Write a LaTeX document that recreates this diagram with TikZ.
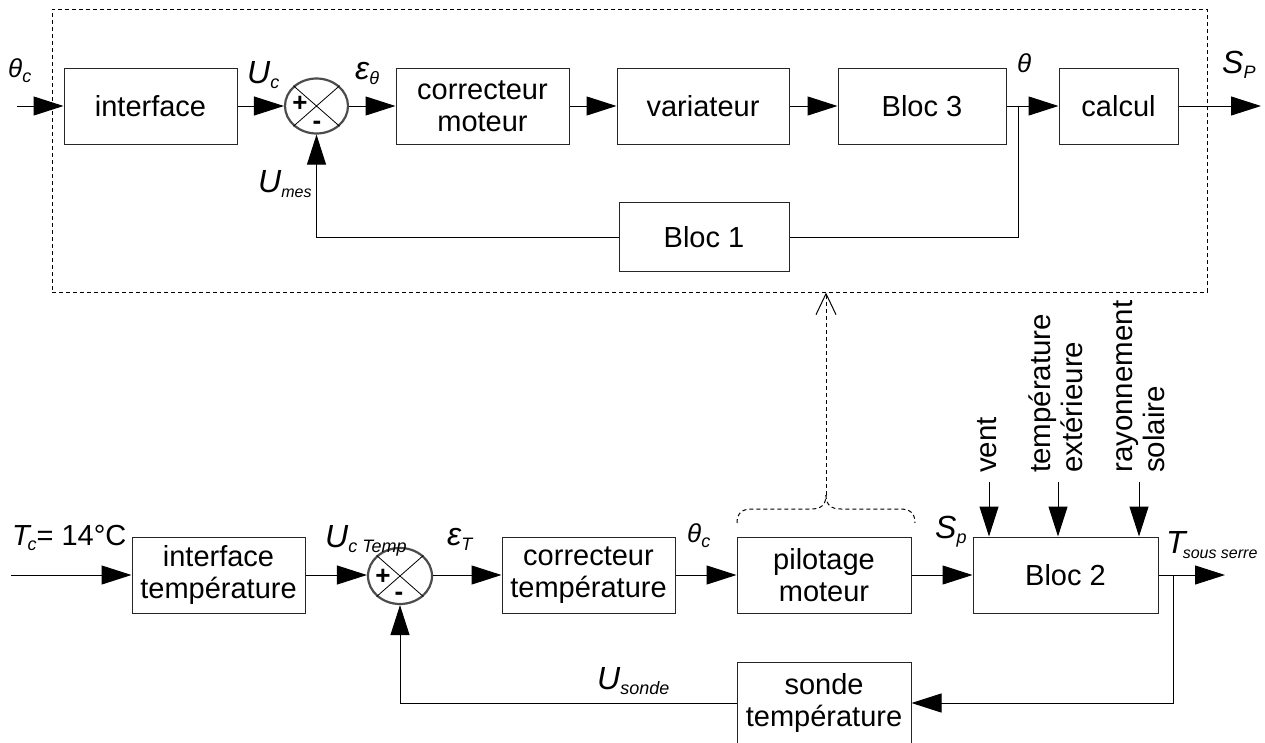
\documentclass[tikz,border=0pt]{standalone}
\usepackage{fontspec}
\setmainfont{Liberation Sans}
\usetikzlibrary{arrows.meta,shapes.geometric}
\newcommand{\sbx}[1]{\raisebox{-5pt}{\fontsize{18}{18}\selectfont #1}}
\newcommand{\sbs}[1]{\raisebox{-5pt}{\fontsize{16}{16}\selectfont #1}}
\newcommand{\thsym}{{\fontsize{26}{26}\selectfont θ}}
\tikzset{
  blk/.style={draw=black!85, line width=1pt, align=center, inner sep=0pt,
    font=\fontsize{29}{32}\selectfont},
  sumj/.style={ellipse, draw=black!70, line width=2.2pt, minimum width=63pt,
    minimum height=55pt, inner sep=0pt},
  arr/.style={line width=1pt, -{Triangle[length=30pt,width=19pt]}},
  ln/.style={line width=1pt},
  lbl/.style={font=\fontsize{32}{34}\selectfont\itshape, inner sep=0pt, anchor=base west},
  dsh/.style={line width=1pt, dash pattern=on 4pt off 3pt},
  rlbl/.style={font=\fontsize{29.5}{32}\selectfont, rotate=90, anchor=west, align=left, inner sep=0pt},
  sgn/.style={font=\fontsize{26}{26}\selectfont\bfseries, inner sep=0pt}
}
\begin{document}
\begin{tikzpicture}[x=1pt,y=-1pt]
\useasboundingbox (0,0) rectangle (1265,742);
% dashed group
\node[dsh, draw, minimum width=1155pt, minimum height=283pt, inner sep=0pt] (grp) at (629.5,150.5) {};
% top row
\node[blk, minimum width=173pt, minimum height=76pt] (iface) at (150.5,106) {interface};
\node[sumj] (s1) at (316.5,106) {};
\draw[line width=0.8pt] (s1.north west) -- (s1.south east) (s1.north east) -- (s1.south west);
\node[sgn] (p1) at (300,104) {+};
\node[sgn] (m1) at (317,125) {-};
\node[blk, minimum width=173pt, minimum height=76pt] (cm) at (482.5,106) {correcteur\\moteur};
\node[blk, minimum width=172pt, minimum height=76pt] (var) at (703,106) {variateur};
\node[blk, minimum width=168pt, minimum height=76pt] (b3) at (922,106) {Bloc 3};
\node[blk, minimum width=119pt, minimum height=76pt] (calc) at (1118.5,106) {calcul};
\node[blk, minimum width=170pt, minimum height=69pt] (b1) at (704,237) {Bloc 1};
\coordinate (in1) at (17,106);
\coordinate (br1) at (1018,106);
\coordinate (out1) at (1261,106);
\draw[arr] (in1) -- (iface.west);
\draw[arr] (iface.east) -- (s1.west);
\draw[arr] (s1.east) -- (cm.west);
\draw[arr] (cm.east) -- (var.west);
\draw[arr] (var.east) -- (b3.west);
\draw[ln] (b3.east) -- (br1);
\draw[arr] (br1) -- (calc.west);
\draw[ln] (br1) |- (b1.east);
\draw[arr] (b1.west) -| (s1.south);
\draw[arr] (calc.east) -- (out1);
% top labels
\node[lbl] (lthc) at (8,77) {\thsym\sbx{c}};
\node[lbl] (luc) at (247,83) {U\sbx{c}};
\node[lbl] (leps) at (355,79) {ε\sbx{θ}};
\node[lbl] (lumes) at (258,192) {U\sbs{mes}};
\node[lbl] (lth) at (1017,72) {\thsym};
\node[lbl] (lsp) at (1222,73) {S\sbx{P}};
% bottom row
\node[blk, minimum width=173pt, minimum height=76pt] (ifT) at (218.5,575) {interface\\température};
\node[sumj, minimum width=64pt, minimum height=56pt] (s2) at (400,576) {};
\draw[line width=0.8pt] (s2.north west) -- (s2.south east) (s2.north east) -- (s2.south west);
\node[sgn] (p2) at (383,577) {+};
\node[sgn] (m2) at (399,596) {-};
\node[blk, minimum width=173pt, minimum height=76pt] (cT) at (588.5,575) {correcteur\\température};
\node[blk, minimum width=174pt, minimum height=76pt] (pil) at (824,575) {pilotage\\moteur};
\node[blk, minimum width=185pt, minimum height=76pt] (b2) at (1065.5,575) {Bloc 2};
\node[blk, minimum width=174pt, minimum height=82pt] (sonde) at (824,703) {sonde\\température};
\coordinate (in2) at (11,575);
\coordinate (br2) at (1173,575);
\coordinate (out2) at (1225,575);
\draw[arr] (in2) -- (ifT.west);
\draw[arr] (ifT.east) -- (s2.west |- ifT.east);
\draw[arr] (s2.east |- cT.west) -- (cT.west);
\draw[arr] (cT.east) -- (pil.west);
\draw[arr] (pil.east) -- (b2.west);
\draw[ln] (b2.east) -- (br2);
\draw[arr] (br2) -- (out2);
\draw[arr] (br2) |- (sonde.east);
\draw[arr] (sonde.west) -| (s2.south);
% disturbances
\coordinate (d1) at (989,482);
\coordinate (d2) at (1058,482);
\coordinate (d3) at (1139,482);
\draw[arr] (d1) -- (d1 |- b2.north);
\draw[arr] (d2) -- (d2 |- b2.north);
\draw[arr] (d3) -- (d3 |- b2.north);
\node[rlbl] (tv) at (987,473) {vent};
\node[rlbl] (tte) at (1056,473) {température\\extérieure};
\node[rlbl] (trs) at (1139,473) {rayonnement\\solaire};
% brace and link
\coordinate (brtop) at (826,495);
\draw[dsh] (737,523) .. controls (737,513) and (742,509) .. (752,509) -- (811,509)
  .. controls (821,509) and (826,505) .. (brtop);
\draw[dsh] (brtop) .. controls (826,505) and (831,509) .. (841,509) -- (900,509)
  .. controls (910,509) and (915,513) .. (915,523);
\draw[dsh, -{Straight Barb[length=21pt,width=20pt]}] (brtop) -- (brtop |- grp.south);
% bottom labels
\node[lbl, font=\fontsize{29}{31}\selectfont] (ltc) at (12,545) {\textit{T}\hspace{-4pt}\textit{\sbx{c}}= 14°C};
\node[lbl] (luct) at (325,547) {U\sbx{c Temp}};
\node[lbl] (lept) at (447,545) {ε\sbx{T}};
\node[lbl] (lthc2) at (687,542) {\thsym\sbx{c}};
\node[lbl] (lsp2) at (935,538) {S\sbx{p}};
\node[lbl] (lts) at (1166,553) {T\hspace{-3pt}\sbs{sous serre}};
\node[lbl] (lus) at (597,689) {U\sbx{sonde}};
\end{tikzpicture}
\end{document}
